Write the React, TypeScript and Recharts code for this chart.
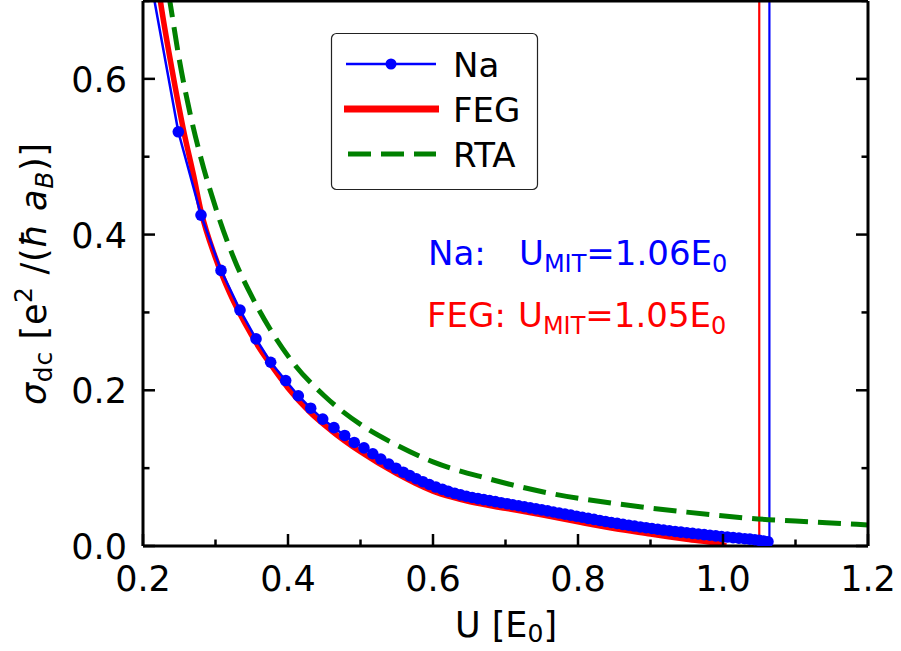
import { Line, LineChart, ReferenceLine, XAxis, YAxis } from "recharts";

const W = 901;
const H = 651;
const FONT = "DejaVu Sans";
const BLUE = "#0000ff";
const RED = "#ff0000";
const GREEN = "#008000";

// Na (markers)
const naU = [
  0.21, 0.2487, 0.28, 0.3076, 0.3338, 0.3559, 0.3761, 0.3968, 0.4142, 0.4313, 0.4479, 0.4634, 0.4782,
  0.4914, 0.5048, 0.517, 0.528, 0.539, 0.549, 0.559, 0.568, 0.577, 0.586, 0.595, 0.604, 0.613, 0.621,
  0.63, 0.638, 0.646, 0.654, 0.662, 0.67, 0.678, 0.686, 0.694, 0.702, 0.71, 0.718, 0.726, 0.734, 0.742,
  0.75, 0.758, 0.766, 0.774, 0.782, 0.79, 0.798, 0.806, 0.814, 0.822, 0.83, 0.838, 0.846, 0.854, 0.862,
  0.87, 0.878, 0.886, 0.894, 0.902, 0.91, 0.918, 0.926, 0.934, 0.942, 0.95, 0.958, 0.966, 0.974, 0.982,
  0.99, 0.998, 1.006, 1.014, 1.022, 1.03, 1.037, 1.044, 1.05, 1.056, 1.062,
];
const naSigma = [
  0.73, 0.532, 0.425, 0.354, 0.303, 0.266, 0.236, 0.2125, 0.193, 0.177, 0.163, 0.152, 0.142, 0.133,
  0.126, 0.1185, 0.1117, 0.1053, 0.0999, 0.0948, 0.0904, 0.0864, 0.0826, 0.079, 0.0757, 0.0727, 0.0702,
  0.0677, 0.0657, 0.0639, 0.0623, 0.0609, 0.0596, 0.0583, 0.057, 0.0556, 0.0543, 0.053, 0.0517, 0.0504,
  0.049, 0.0477, 0.0464, 0.0451, 0.0437, 0.0423, 0.041, 0.0396, 0.0383, 0.0369, 0.0355, 0.0342, 0.0328,
  0.0315, 0.0302, 0.029, 0.0278, 0.0267, 0.0256, 0.0245, 0.0235, 0.0225, 0.0215, 0.0205, 0.0196, 0.0187,
  0.0178, 0.017, 0.0162, 0.0154, 0.0146, 0.0138, 0.013, 0.0122, 0.0115, 0.0108, 0.0101, 0.0094, 0.0088,
  0.008, 0.0073, 0.0065, 0.0055,
];

// free electron gas
const fegU = [
  0.215, 0.224, 0.24, 0.2557, 0.27, 0.28, 0.3, 0.32, 0.34, 0.36, 0.38, 0.4, 0.43, 0.46, 0.5, 0.55, 0.575,
  0.6, 0.625, 0.65, 0.7, 0.75, 0.8, 0.85, 0.9, 0.95, 1.0, 1.004,
];
const fegSigma = [
  0.76, 0.7, 0.612, 0.535, 0.475, 0.43, 0.37, 0.324, 0.287, 0.255, 0.228, 0.203, 0.172, 0.148, 0.121,
  0.093, 0.081, 0.0705, 0.063, 0.057, 0.0485, 0.04, 0.031, 0.0225, 0.0155, 0.0085, 0.0015, 0,
];

// relaxation time approximation
const rtaU = [
  0.228, 0.237, 0.25, 0.2648, 0.28, 0.3, 0.3292, 0.3476, 0.375, 0.4073, 0.45, 0.5085, 0.5407, 0.6,
  0.674, 0.7614, 0.8556, 0.95, 1.037, 1.1, 1.175, 1.2,
];
const rtaSigma = [
  0.75, 0.7, 0.625, 0.556, 0.498, 0.435, 0.361, 0.325, 0.279, 0.235, 0.193, 0.151, 0.134, 0.108, 0.087,
  0.0677, 0.054, 0.0435, 0.0356, 0.032, 0.0283, 0.027,
];

const uMitNa = 1.064;
const uMitFeg = 1.05;

// major ticks get labels, the rest are minor
const xTicks = [0.2, 0.3, 0.4, 0.5, 0.6, 0.7, 0.8, 0.9, 1.0, 1.1, 1.2];
const yTicks = [0, 0.1, 0.2, 0.3, 0.4, 0.5, 0.6, 0.7];

const naData = naU.map((u, i) => ({ u, s: naSigma[i] }));
const fegData = fegU.map((u, i) => ({ u, s: fegSigma[i] }));
const rtaData = rtaU.map((u, i) => ({ u, s: rtaSigma[i] }));

const X_DOMAIN: [number, number] = [0.2, 1.2];
const Y_DOMAIN: [number, number] = [0, 0.7];
const MAJOR = 12;
const MINOR = 6.5;
const TICK_W = 2.5;
const LABEL_SIZE = 35;
const axisLine = { stroke: "#000", strokeWidth: 3 };

const isMajor = (v: number) => Math.round(v * 10) % 2 === 0;

type Side = "bottom" | "top" | "left" | "right";

// ticks point into the plot, like matplotlib's direction="in"
function makeTick(side: Side) {
  return (props: any) => {
    const { x, y, payload } = props;
    const v: number = payload.value;
    const len = isMajor(v) ? MAJOR : MINOR;
    const label = isMajor(v) && (side === "bottom" || side === "left");
    let x2 = x;
    let y2 = y;
    if (side === "bottom") y2 = y - len;
    if (side === "top") y2 = y + len;
    if (side === "left") x2 = x + len;
    if (side === "right") x2 = x - len;
    return (
      <g>
        <line x1={x} y1={y} x2={x2} y2={y2} stroke="#000" strokeWidth={TICK_W} />
        {label && side === "bottom" && (
          <text x={x} y={y + 45} textAnchor="middle" fontSize={LABEL_SIZE} fontFamily={FONT} fill="#000">
            {v.toFixed(1)}
          </text>
        )}
        {label && side === "left" && (
          <text x={x - 16} y={y + 13} textAnchor="end" fontSize={LABEL_SIZE} fontFamily={FONT} fill="#000">
            {v.toFixed(1)}
          </text>
        )}
      </g>
    );
  };
}

function Overlay() {
  return (
    <svg
      width={W}
      height={H}
      style={{ position: "absolute", left: 0, top: 0, pointerEvents: "none" }}
      fontFamily={FONT}
    >
      {/* legend */}
      <rect x={331.5} y={33.5} width={206} height={156} rx={5} fill="#fff" stroke="#222" strokeWidth={1.2} />
      <line x1={346} x2={436} y1={64} y2={64} stroke={BLUE} strokeWidth={2.5} />
      <circle cx={391} cy={64} r={5.5} fill={BLUE} />
      <line x1={344} x2={439} y1={109} y2={109} stroke={RED} strokeWidth={7} />
      <line x1={348} x2={436} y1={154} y2={154} stroke={GREEN} strokeWidth={5} strokeDasharray="23 10" />
      <text x={453} y={77} fontSize={34}>Na</text>
      <text x={453} y={122} fontSize={34}>FEG</text>
      <text x={453} y={167} fontSize={34}>RTA</text>

      {/* critical values */}
      <text x={428} y={265} fontSize={34} fill={BLUE}>
        Na:
        <tspan x={519}>U</tspan>
        <tspan fontSize={24} dy={7}>MIT</tspan>
        <tspan dy={-7}>=1.06E</tspan>
        <tspan fontSize={24} dy={7}>0</tspan>
      </text>
      <text x={427} y={327} fontSize={34} fill={RED}>
        FEG:
        <tspan x={518}>U</tspan>
        <tspan fontSize={24} dy={7}>MIT</tspan>
        <tspan dy={-7}>=1.05E</tspan>
        <tspan fontSize={24} dy={7}>0</tspan>
      </text>

      {/* axis titles */}
      <text x={506} y={637} fontSize={35} textAnchor="middle">
        U [E<tspan fontSize={25} dy={5}>0</tspan>
        <tspan dy={-5}>]</tspan>
      </text>
      <text
        x={46}
        y={274}
        fontSize={35}
        textAnchor="middle"
        transform="rotate(-90 46 274)"
        textLength={262}
        lengthAdjust="spacing"
      >
        <tspan fontStyle="italic">σ</tspan>
        <tspan fontSize={25} dy={6}>dc</tspan>
        <tspan dy={-6}> [e</tspan>
        <tspan fontSize={25} dy={-14}>2</tspan>
        <tspan dy={14}> /(</tspan>
        <tspan fontStyle="italic">ħ a</tspan>
        <tspan fontSize={25} fontStyle="italic" dy={7}>B</tspan>
        <tspan dy={-7}>)]</tspan>
      </text>
    </svg>
  );
}

export default function App() {
  return (
    <div style={{ position: "absolute", left: 0, top: 0, width: W, height: H, background: "#fff" }}>
      <LineChart width={W} height={H} margin={{ top: 0, right: 32, bottom: 0, left: 0 }}>
        <XAxis
          xAxisId="x"
          dataKey="u"
          type="number"
          domain={X_DOMAIN}
          allowDataOverflow
          ticks={xTicks}
          interval={0}
          height={105}
          tickSize={0}
          tickMargin={0}
          axisLine={axisLine}
          tickLine={false}
          tick={makeTick("bottom")}
        />
        <XAxis
          xAxisId="xt"
          orientation="top"
          type="number"
          domain={X_DOMAIN}
          allowDataOverflow
          ticks={xTicks}
          interval={0}
          height={1}
          tickSize={0}
          tickMargin={0}
          axisLine={axisLine}
          tickLine={false}
          tick={makeTick("top")}
        />
        <YAxis
          yAxisId="y"
          type="number"
          domain={Y_DOMAIN}
          allowDataOverflow
          ticks={yTicks}
          interval={0}
          width={143}
          tickSize={0}
          tickMargin={0}
          axisLine={axisLine}
          tickLine={false}
          tick={makeTick("left")}
        />
        <YAxis
          yAxisId="yr"
          orientation="right"
          type="number"
          domain={Y_DOMAIN}
          allowDataOverflow
          ticks={yTicks}
          interval={0}
          width={1}
          tickSize={0}
          tickMargin={0}
          axisLine={axisLine}
          tickLine={false}
          tick={makeTick("right")}
        />
        <ReferenceLine xAxisId="x" yAxisId="y" x={uMitFeg} stroke={RED} strokeWidth={2.2} />
        <ReferenceLine xAxisId="x" yAxisId="y" x={uMitNa} stroke={BLUE} strokeWidth={2.2} />
        <Line
          xAxisId="x"
          yAxisId="y"
          data={fegData}
          dataKey="s"
          type="monotone"
          stroke={RED}
          strokeWidth={5.5}
          dot={false}
          activeDot={false}
          isAnimationActive={false}
        />
        <Line
          xAxisId="x"
          yAxisId="y"
          data={rtaData}
          dataKey="s"
          type="monotone"
          stroke={GREEN}
          strokeWidth={5}
          strokeDasharray="23 10"
          dot={false}
          activeDot={false}
          isAnimationActive={false}
        />
        <Line
          xAxisId="x"
          yAxisId="y"
          data={naData}
          dataKey="s"
          type="linear"
          stroke={BLUE}
          strokeWidth={2.5}
          dot={{ r: 5.8, fill: BLUE, stroke: "none" }}
          activeDot={false}
          isAnimationActive={false}
        />
      </LineChart>
      <Overlay />
    </div>
  );
}
